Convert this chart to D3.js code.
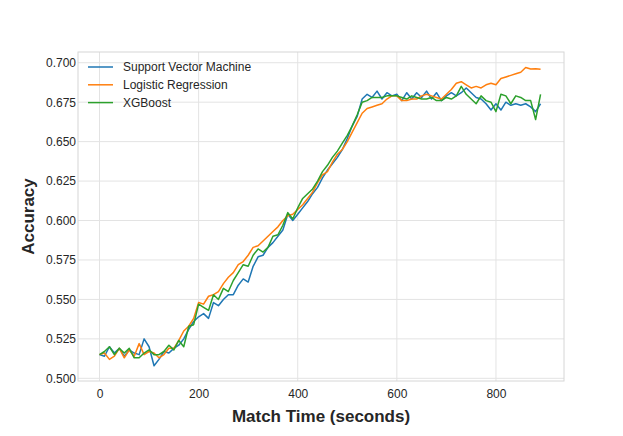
<!DOCTYPE html>
<html>
<head>
<meta charset="utf-8">
<script src="https://cdn.jsdelivr.net/npm/d3@7"></script>
<style>
  html, body { margin: 0; padding: 0; background: #fff; }
  svg { display: block; font-family: "Liberation Sans", Arial, Helvetica, sans-serif; }
</style>
</head>
<body>
<svg id="chart" width="623" height="436"></svg>
<script>
// ---------- data ----------
const times = d3.range(0, 900, 10); // 0..890 seconds

const svmAcc = [
  0.515, 0.514, 0.520, 0.516, 0.519, 0.514, 0.518, 0.516, 0.515, 0.525,
  0.520, 0.508, 0.512, 0.517, 0.516, 0.519, 0.521, 0.525, 0.531, 0.536,
  0.539, 0.541, 0.538, 0.548, 0.546, 0.550, 0.553, 0.553, 0.559, 0.563,
  0.561, 0.571, 0.577, 0.578, 0.583, 0.586, 0.590, 0.594, 0.604, 0.600,
  0.604, 0.608, 0.612, 0.617, 0.621, 0.627, 0.632, 0.636, 0.640, 0.645,
  0.652, 0.660, 0.666, 0.677, 0.680, 0.678, 0.682, 0.677, 0.681, 0.679,
  0.680, 0.676, 0.681, 0.677, 0.681, 0.678, 0.682, 0.677, 0.681, 0.676,
  0.679, 0.681, 0.679, 0.681, 0.684, 0.681, 0.678, 0.677, 0.674, 0.670,
  0.674, 0.670, 0.675, 0.673, 0.674, 0.673, 0.674, 0.672, 0.669, 0.674
];

const lrAcc = [
  0.515, 0.516, 0.512, 0.514, 0.519, 0.513, 0.518, 0.514, 0.522, 0.515,
  0.517, 0.516, 0.513, 0.515, 0.519, 0.519, 0.524, 0.530, 0.533, 0.538,
  0.548, 0.547, 0.552, 0.553, 0.555, 0.560, 0.564, 0.567, 0.572, 0.574,
  0.578, 0.583, 0.584, 0.587, 0.590, 0.593, 0.596, 0.600, 0.603, 0.604,
  0.607, 0.610, 0.614, 0.618, 0.624, 0.629, 0.631, 0.637, 0.642, 0.645,
  0.650, 0.656, 0.662, 0.668, 0.671, 0.672, 0.673, 0.674, 0.677, 0.679,
  0.679, 0.676, 0.676, 0.677, 0.677, 0.679, 0.680, 0.679, 0.678, 0.677,
  0.680, 0.683, 0.687, 0.688, 0.686, 0.684, 0.685, 0.684, 0.686, 0.687,
  0.686, 0.690, 0.691, 0.692, 0.693, 0.694, 0.697, 0.696, 0.6962, 0.6958
];

const xgbAcc = [
  0.515, 0.517, 0.520, 0.515, 0.519, 0.516, 0.519, 0.513, 0.513, 0.516,
  0.518, 0.515, 0.515, 0.517, 0.521, 0.518, 0.524, 0.520, 0.533, 0.534,
  0.547, 0.545, 0.543, 0.553, 0.550, 0.557, 0.555, 0.562, 0.567, 0.572,
  0.571, 0.578, 0.582, 0.580, 0.583, 0.590, 0.591, 0.597, 0.605, 0.601,
  0.608, 0.614, 0.617, 0.620, 0.625, 0.631, 0.635, 0.640, 0.644, 0.649,
  0.654, 0.660, 0.667, 0.675, 0.676, 0.678, 0.678, 0.678, 0.679, 0.679,
  0.679, 0.678, 0.677, 0.679, 0.678, 0.677, 0.677, 0.678, 0.676, 0.676,
  0.678, 0.677, 0.679, 0.685, 0.680, 0.677, 0.674, 0.679, 0.676, 0.675,
  0.669, 0.680, 0.679, 0.674, 0.679, 0.678, 0.676, 0.676, 0.664, 0.680
];

const seriesNames = ["Support Vector Machine", "Logistic Regression", "XGBoost"];
const seriesColors = ["#1f77b4", "#ff7f0e", "#2ca02c"];
const xTicks = [0, 200, 400, 600, 800];
const yTicks = [0.500, 0.525, 0.550, 0.575, 0.600, 0.625, 0.650, 0.675, 0.700];

// ---------- layout ----------
const plot = { left: 78, right: 564, top: 52, bottom: 381 };
const svg = d3.select("#chart");

const x = d3.scaleLinear().domain([-43.4, 937.3]).range([plot.left, plot.right]);
const y = d3.scaleLinear().domain([0.4983, 0.7068]).range([plot.bottom, plot.top]);

// grid
const g = svg.append("g");
g.selectAll(".vgrid").data(xTicks).join("line")
  .attr("x1", d => x(d)).attr("x2", d => x(d))
  .attr("y1", plot.top).attr("y2", plot.bottom)
  .attr("stroke", "#e3e3e3").attr("stroke-width", 1);
g.selectAll(".hgrid").data(yTicks).join("line")
  .attr("y1", d => y(d)).attr("y2", d => y(d))
  .attr("x1", plot.left).attr("x2", plot.right)
  .attr("stroke", "#e3e3e3").attr("stroke-width", 1);

// axes (labels only, no tick marks)
const xAxis = d3.axisBottom(x).tickValues(xTicks).tickSize(0).tickPadding(8).tickFormat(d3.format("d"));
const yAxis = d3.axisLeft(y).tickValues(yTicks).tickSize(0).tickPadding(2).tickFormat(d3.format(".3f"));

const gx = svg.append("g").attr("transform", `translate(0,${plot.bottom})`).call(xAxis);
const gy = svg.append("g").attr("transform", `translate(${plot.left},0)`).call(yAxis);
[gx, gy].forEach(a => {
  a.select(".domain").remove();
  a.selectAll("text").attr("font-size", 12).attr("fill", "#262626")
    .attr("font-family", "'Liberation Sans', Arial, sans-serif");
});

// frame
svg.append("rect")
  .attr("x", plot.left).attr("y", plot.top)
  .attr("width", plot.right - plot.left).attr("height", plot.bottom - plot.top)
  .attr("fill", "none").attr("stroke", "#d6d6d6").attr("stroke-width", 1);

// lines
const allSeries = [svmAcc, lrAcc, xgbAcc];
const line = d3.line().x((d, i) => x(times[i])).y(d => y(d));
svg.append("g").selectAll("path").data(allSeries).join("path")
  .attr("d", d => line(d))
  .attr("fill", "none")
  .attr("stroke", (d, i) => seriesColors[i])
  .attr("stroke-width", 1.5)
  .attr("stroke-linejoin", "round");

// legend
const legend = svg.append("g");
seriesNames.forEach((name, i) => {
  const ly = 67 + i * 17.8;
  legend.append("line")
    .attr("x1", 88).attr("x2", 113).attr("y1", ly).attr("y2", ly)
    .attr("stroke", seriesColors[i]).attr("stroke-width", 1.5);
  legend.append("text")
    .attr("x", 123).attr("y", ly).attr("dy", "0.35em")
    .attr("font-size", 12).attr("fill", "#262626")
    .text(name);
});

// axis titles
svg.append("text")
  .attr("x", (plot.left + plot.right) / 2).attr("y", 422)
  .attr("text-anchor", "middle")
  .attr("font-size", 17).attr("font-weight", "bold").attr("fill", "#262626")
  .text("Match Time (seconds)");

svg.append("text")
  .attr("transform", `translate(34,${(plot.top + plot.bottom) / 2}) rotate(-90)`)
  .attr("text-anchor", "middle")
  .attr("font-size", 17).attr("font-weight", "bold").attr("fill", "#262626")
  .text("Accuracy");
</script>
</body>
</html>
